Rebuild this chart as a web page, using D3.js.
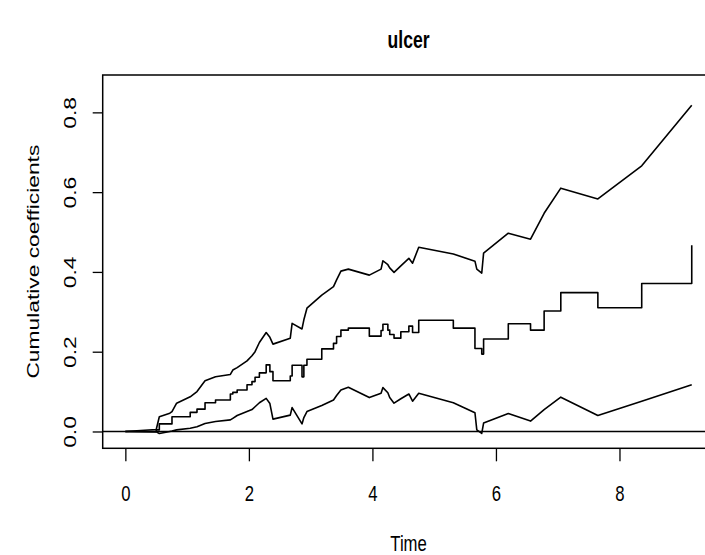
<!DOCTYPE html>
<html>
<head>
<meta charset="utf-8">
<script src="https://cdn.jsdelivr.net/npm/d3@7"></script>
<style>
  body { margin: 0; background: #fff; }
  svg { display: block; font-family: "Liberation Sans", Arial, Helvetica, sans-serif; }
</style>
</head>
<body>
<div id="chart"></div>
<script>
// event times and cumulative coefficient for "ulcer" (estimate + lower/upper band)
const times = [0, 0.5, 0.55, 0.72, 0.755, 0.83, 1.05, 1.16, 1.29, 1.46, 1.70, 1.74, 1.81, 1.97, 2.05, 2.10, 2.17, 2.28, 2.34, 2.39,
  2.67, 2.70, 2.86, 2.89, 2.94, 3.18, 3.37, 3.42, 3.49, 3.61, 3.95, 4.14, 4.17, 4.25, 4.28, 4.35, 4.46, 4.59, 4.65, 4.75,
  5.31, 5.66, 5.69, 5.77, 5.80, 6.20, 6.56, 6.78, 7.05, 7.65, 8.36, 9.17];
const est = [0, 0.004, 0.019, 0.019, 0.037, 0.037, 0.048, 0.056, 0.072, 0.079, 0.094, 0.098, 0.104, 0.117, 0.125, 0.136, 0.147, 0.167, 0.150, 0.127,
  0.139, 0.166, 0.137, 0.166, 0.181, 0.207, 0.221, 0.238, 0.254, 0.259, 0.239, 0.253, 0.269, 0.254, 0.243, 0.234, 0.250, 0.264, 0.248, 0.279,
  0.259, 0.208, 0.208, 0.194, 0.232, 0.270, 0.254, 0.302, 0.348, 0.310, 0.371, 0.467];
const lower = [0, -0.001, -0.005, 0.000, 0.001, 0.004, 0.008, 0.012, 0.020, 0.025, 0.029, 0.033, 0.040, 0.050, 0.055, 0.062, 0.072, 0.083, 0.070, 0.031,
  0.041, 0.060, 0.019, 0.035, 0.050, 0.065, 0.079, 0.090, 0.104, 0.111, 0.085, 0.096, 0.110, 0.097, 0.085, 0.071, 0.082, 0.094, 0.076, 0.096,
  0.072, 0.047, 0.004, -0.005, 0.021, 0.045, 0.026, 0.055, 0.086, 0.040, 0.076, 0.117];
const upper = [0, 0.005, 0.037, 0.046, 0.050, 0.071, 0.087, 0.100, 0.127, 0.137, 0.143, 0.154, 0.160, 0.177, 0.190, 0.200, 0.223, 0.248, 0.236, 0.219,
  0.234, 0.271, 0.257, 0.280, 0.309, 0.342, 0.363, 0.380, 0.402, 0.407, 0.392, 0.407, 0.428, 0.418, 0.410, 0.399, 0.415, 0.434, 0.422, 0.462,
  0.445, 0.427, 0.407, 0.397, 0.447, 0.497, 0.482, 0.547, 0.610, 0.583, 0.666, 0.818];

const xTicks = [0, 2, 4, 6, 8];
const yTicks = [0, 0.2, 0.4, 0.6, 0.8];
const yTickLabels = ["0.0", "0.2", "0.4", "0.6", "0.8"];

const width = 705, height = 555;
const margin = { top: 75, right: -9.4, bottom: 106.7, left: 102.7 };

// the picture's text is a bit narrow and tall
const kx = 0.88, ky = 1.2;

// R style 4% axis expansion
const xlim = [0, 9.17], ylim = [-0.0075, 0.859];
const xpad = (xlim[1] - xlim[0]) * 0.04, ypad = (ylim[1] - ylim[0]) * 0.04;

const x = d3.scaleLinear()
  .domain([xlim[0] - xpad, xlim[1] + xpad])
  .range([margin.left, width - margin.right]);
const y = d3.scaleLinear()
  .domain([ylim[0] - ypad, ylim[1] + ypad])
  .range([height - margin.bottom, margin.top]);

const svg = d3.select("#chart").append("svg")
  .attr("width", width)
  .attr("height", height);

const data = times.map((t, i) => ({ t, est: est[i], lo: lower[i], up: upper[i] }));

// horizontal reference line at 0
svg.append("line")
  .attr("x1", margin.left).attr("x2", width - margin.right)
  .attr("y1", y(0)).attr("y2", y(0))
  .attr("stroke", "#000").attr("stroke-width", 1.5);

const stepLine = d3.line().x(d => x(d.t)).y(d => y(d.est)).curve(d3.curveStepAfter);
const loLine = d3.line().x(d => x(d.t)).y(d => y(d.lo));
const upLine = d3.line().x(d => x(d.t)).y(d => y(d.up));

const g = svg.append("g")
  .attr("fill", "none")
  .attr("stroke", "#000")
  .attr("stroke-width", 1.6)
  .attr("stroke-linejoin", "round");

g.append("path").attr("d", stepLine(data));
g.append("path").attr("d", loLine(data));
g.append("path").attr("d", upLine(data));

// box
svg.append("rect")
  .attr("x", margin.left).attr("y", margin.top)
  .attr("width", width - margin.right - margin.left)
  .attr("height", height - margin.bottom - margin.top)
  .attr("fill", "none").attr("stroke", "#000").attr("stroke-width", 1.5);

const bottom = height - margin.bottom;

// x axis
const xAxis = svg.append("g")
  .attr("transform", `translate(0,${bottom})`)
  .call(d3.axisBottom(x).tickValues(xTicks).tickSize(13).tickFormat(d3.format("d")));
xAxis.select(".domain").remove();
xAxis.selectAll("line").attr("stroke-width", 1.3);
xAxis.selectAll("text")
  .attr("font-size", 19).attr("font-family", null).attr("fill", "#000")
  .attr("y", 0).attr("dy", "0.35em")
  .attr("transform", `translate(0,${493 - bottom}) scale(${kx},${ky})`);

// y axis
const yAxis = svg.append("g")
  .attr("transform", `translate(${margin.left},0)`)
  .call(d3.axisLeft(y).tickValues(yTicks).tickSize(10).tickFormat((d, i) => yTickLabels[i]));
yAxis.select(".domain").remove();
yAxis.selectAll("line").attr("stroke-width", 1.3);
yAxis.selectAll("text")
  .attr("font-size", 19).attr("font-family", null).attr("fill", "#000")
  .attr("x", 0).attr("y", 0).attr("dy", "0.35em")
  .attr("text-anchor", "middle")
  .attr("transform", `translate(${70 - margin.left},0) scale(${kx},${ky}) rotate(-90)`);

// titles
const cx = (margin.left + width - margin.right) / 2;
const cy = (margin.top + bottom) / 2;
svg.append("text")
  .attr("transform", `translate(${cx},40) scale(${kx},${ky})`)
  .attr("dy", "0.35em")
  .attr("text-anchor", "middle")
  .attr("font-size", 20).attr("font-weight", "bold")
  .text("ulcer");

svg.append("text")
  .attr("transform", `translate(${cx},543) scale(${kx},${ky})`)
  .attr("dy", "0.35em")
  .attr("text-anchor", "middle")
  .attr("font-size", 19)
  .text("Time");

svg.append("text")
  .attr("transform", `translate(33,${cy}) scale(${kx},${ky}) rotate(-90)`)
  .attr("dy", "0.35em")
  .attr("text-anchor", "middle")
  .attr("font-size", 19)
  .text("Cumulative coefficients");
</script>
</body>
</html>
